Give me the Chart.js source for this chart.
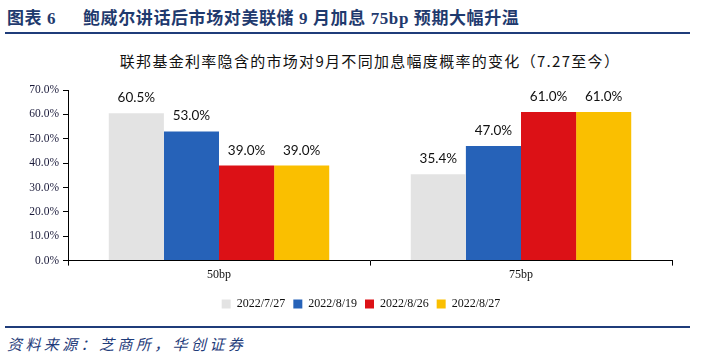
<!DOCTYPE html>
<html>
<head>
<meta charset="utf-8">
<script src="https://cdn.jsdelivr.net/npm/chart.js@4/dist/chart.umd.min.js"></script>
<style>
  html, body { margin: 0; padding: 0; background: #fff; }
  body { width: 703px; height: 357px; position: relative; overflow: hidden; }
  .hd { position: absolute; top: 4px; font-family: "Liberation Serif", "Noto Sans CJK SC", serif; font-weight: bold; font-size: 17px; letter-spacing: 0.6px; color: #1F3A6E; white-space: pre; }
  #line1 { position: absolute; left: 5px; top: 32px; width: 685px; height: 2px; background: #1F3C7A; }
  #sub { position: absolute; left: 0; width: 740px; top: 50px; text-align: center; font-family: "Noto Sans CJK SC", sans-serif; font-size: 15px; letter-spacing: 1.3px; color: #111; white-space: pre; }
  #line2 { position: absolute; left: 5px; top: 326px; width: 685px; height: 2px; background: #1F3C7A; }
  #src { position: absolute; left: 7px; top: 333px; font-family: "Noto Sans CJK SC", sans-serif; font-style: italic; font-size: 15px; letter-spacing: 3.4px; color: #1F3C7A; white-space: pre; }
  #wrap { position: absolute; left: 0; top: 70px; width: 703px; height: 250px; }
</style>
</head>
<body>
<div class="hd" style="left:7px">图表 6</div>
<div class="hd" style="left:83px">鲍威尔讲话后市场对美联储 9 月加息 75bp 预期大幅升温</div>
<div id="line1"></div>
<div id="sub">联邦基金利率隐含的市场对9月不同加息幅度概率的变化（7.27至今）</div>
<div id="wrap"><canvas id="c" width="703" height="250"></canvas></div>
<div id="line2"></div>
<div id="src">资料来源：芝商所，华创证券</div>
<script>
const categories = ["50bp", "75bp"];
const seriesNames = ["2022/7/27", "2022/8/19", "2022/8/26", "2022/8/27"];
const s0727 = [60.5, 35.4];
const s0819 = [53.0, 47.0];
const s0826 = [39.0, 61.0];
const s0827 = [39.0, 61.0];
const yTicks = [0, 10, 20, 30, 40, 50, 60, 70];
const colors = ["#E3E3E3", "#2662B8", "#DC1116", "#FABF00"];

const valueLabels = {
  id: 'valueLabels',
  afterDatasetsDraw(chart) {
    const ctx = chart.ctx;
    ctx.save();
    ctx.font = '13.5px Lato, "Liberation Sans", sans-serif';
    ctx.fillStyle = '#111';
    ctx.textAlign = 'center';
    ctx.textBaseline = 'alphabetic';
    chart.data.datasets.forEach((ds, i) => {
      const meta = chart.getDatasetMeta(i);
      meta.data.forEach((bar, j) => {
        ctx.fillText(ds.data[j].toFixed(1) + '%', bar.x, bar.y - 11);
      });
    });
    ctx.restore();
  }
};

const allSeries = [s0727, s0819, s0826, s0827];
new Chart(document.getElementById('c'), {
  type: 'bar',
  data: {
    labels: categories,
    datasets: seriesNames.map((n, i) => ({
      label: n,
      data: allSeries[i],
      backgroundColor: colors[i],
      borderWidth: 0,
      categoryPercentage: 0.73,
      barPercentage: 1.0
    }))
  },
  options: {
    responsive: false,
    animation: false,
    devicePixelRatio: 1,
    layout: { padding: { top: 20, right: 0, left: 19, bottom: 0 } },
    plugins: {
      legend: {
        position: 'bottom',
        labels: {
          boxWidth: 9, boxHeight: 9, padding: 8,
          color: '#111',
          font: { family: '"Liberation Serif", serif', size: 12 }
        }
      },
      tooltip: { enabled: false },
      title: { display: false }
    },
    scales: {
      x: {
        afterFit(scale) { scale.height += 6; },
        grid: { display: true, drawOnChartArea: false, drawTicks: true, tickLength: 5, color: '#000', offset: true },
        border: { display: true, color: '#000', width: 1 },
        ticks: { color: '#111', padding: 2, font: { family: '"Liberation Serif", serif', size: 12 } }
      },
      y: {
        min: 0, max: 70,
        afterFit(scale) { scale.width = 49; },
        afterBuildTicks(scale) { scale.ticks = yTicks.map(v => ({ value: v })); },
        grid: { display: true, drawOnChartArea: false, drawTicks: true, tickLength: 5, color: '#000' },
        border: { display: true, color: '#000', width: 1 },
        ticks: {
          color: '#1a1a3a', padding: 4,
          font: { family: '"Liberation Serif", serif', size: 11.5 },
          callback: v => v.toFixed(1) + '%'
        }
      },
      yR: {
        position: 'right',
        display: true,
        afterFit(scale) { scale.width = 31; },
        grid: { display: false },
        border: { display: false },
        ticks: { display: false }
      }
    }
  },
  plugins: [valueLabels]
});
</script>
</body>
</html>
